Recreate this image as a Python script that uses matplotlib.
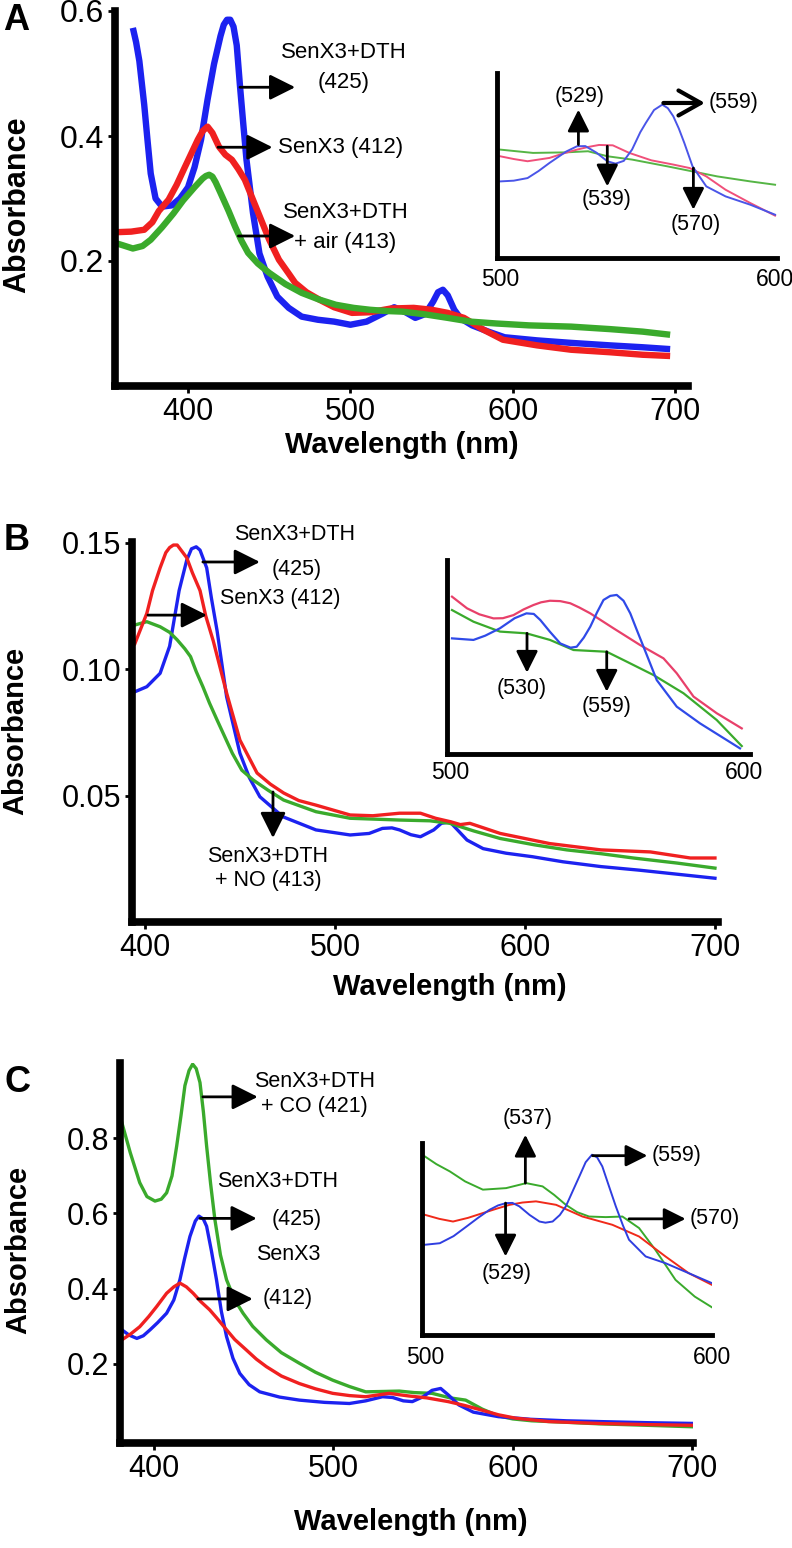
import matplotlib
matplotlib.use('Agg')
import matplotlib.pyplot as plt

plt.rcParams['font.family'] = ['Liberation Sans', 'DejaVu Sans']

# ---------------- Panel A data ----------------
a_blue_wl = [366, 368, 370, 373, 375, 377, 380, 384, 390, 395, 400, 404, 408, 412, 416, 420, 422, 424, 426, 428, 430, 432, 434, 436, 440, 444, 449, 455, 462, 470, 480, 490, 500, 510, 520, 527, 534, 540, 546, 551, 554, 557, 560, 564, 568, 575, 585, 595, 615, 636, 660, 680, 697]
a_blue_ab = [0.573, 0.55, 0.52, 0.45, 0.394, 0.34, 0.30, 0.287, 0.289, 0.30, 0.318, 0.35, 0.394, 0.458, 0.515, 0.560, 0.578, 0.586, 0.586, 0.575, 0.545, 0.48, 0.42, 0.362, 0.277, 0.212, 0.175, 0.143, 0.125, 0.111, 0.106, 0.103, 0.098, 0.103, 0.116, 0.126, 0.118, 0.109, 0.115, 0.135, 0.150, 0.154, 0.145, 0.122, 0.108, 0.097, 0.087, 0.078, 0.073, 0.069, 0.065, 0.062, 0.059]
a_red_wl = [355, 365, 373, 378, 382, 388, 393, 398, 402, 406, 409, 412, 415, 419, 423, 427, 431, 435, 440, 445, 450, 456, 462, 466, 473, 481, 490, 501, 512, 525, 539, 550, 560, 570, 582, 594, 615, 636, 660, 680, 697]
a_red_ab = [0.246, 0.247, 0.25, 0.262, 0.28, 0.298, 0.322, 0.35, 0.372, 0.394, 0.408, 0.415, 0.405, 0.383, 0.37, 0.362, 0.347, 0.33, 0.298, 0.266, 0.234, 0.202, 0.18, 0.165, 0.15, 0.138, 0.126, 0.117, 0.118, 0.124, 0.125, 0.122, 0.117, 0.109, 0.09, 0.074, 0.065, 0.058, 0.054, 0.05, 0.048]
a_green_wl = [355, 360, 366, 372, 377, 384, 391, 397, 404, 409, 411, 413, 415, 417, 420, 425, 429, 433, 437, 443, 450, 460, 470, 480, 491, 502, 512, 522, 532, 545, 560, 574, 590, 610, 636, 660, 680, 697]
a_green_ab = [0.229, 0.225, 0.22, 0.224, 0.234, 0.254, 0.276, 0.297, 0.318, 0.332, 0.336, 0.338, 0.335, 0.326, 0.309, 0.28, 0.255, 0.232, 0.213, 0.196, 0.181, 0.163, 0.149, 0.139, 0.13, 0.125, 0.122, 0.12, 0.119, 0.115, 0.109, 0.103, 0.1, 0.097, 0.095, 0.091, 0.087, 0.082]

# inset A (relative absorbance)
ai_blue_wl = [500, 505, 510, 514, 518, 524, 528, 531, 535, 539, 542, 545, 548, 551, 553, 556, 559, 561, 563, 565, 567, 570, 575, 582, 591, 600]
ai_blue_ab = [0.414, 0.418, 0.432, 0.47, 0.514, 0.575, 0.604, 0.605, 0.57, 0.523, 0.51, 0.525, 0.586, 0.68, 0.73, 0.80, 0.829, 0.81, 0.766, 0.70, 0.622, 0.495, 0.387, 0.333, 0.288, 0.234]
ai_red_wl = [500, 505, 510, 518, 523, 528, 532, 536, 541, 547, 555, 563, 569, 575, 582, 591, 600]
ai_red_ab = [0.55, 0.535, 0.523, 0.541, 0.565, 0.586, 0.60, 0.611, 0.609, 0.568, 0.528, 0.505, 0.486, 0.441, 0.369, 0.297, 0.229]
ai_green_wl = [500, 512, 524, 532, 539, 548, 561, 570, 579, 591, 600]
ai_green_ab = [0.586, 0.568, 0.571, 0.577, 0.55, 0.532, 0.495, 0.468, 0.441, 0.414, 0.396]

# ---------------- Panel B data ----------------
b_red_wl = [394.7, 401, 404, 408, 411, 413, 415, 417, 420, 422, 425, 429, 432, 436, 443, 450, 459, 466, 473, 481, 490, 508, 520, 534, 545, 553, 561, 566, 571, 587, 600, 613, 640, 666, 687, 700]
b_red_ab = [0.110, 0.122, 0.131, 0.140, 0.146, 0.148, 0.149, 0.149, 0.146, 0.144, 0.138, 0.131, 0.121, 0.111, 0.0905, 0.0719, 0.0589, 0.0545, 0.051, 0.048, 0.0462, 0.0423, 0.042, 0.043, 0.043, 0.041, 0.0396, 0.0385, 0.039, 0.035, 0.033, 0.031, 0.0285, 0.0277, 0.0253, 0.0253]
b_blue_wl = [394.7, 401, 408, 413, 418, 422, 424.5, 427, 429, 430.5, 432.5, 435, 438, 443, 450, 455, 460.5, 472.6, 490, 508, 518, 525, 530, 534, 540, 545, 552, 556, 560.5, 565, 569.5, 578, 590, 604, 620, 640, 660, 675, 700]
b_blue_ab = [0.091, 0.093, 0.0983, 0.109, 0.131, 0.143, 0.1475, 0.1483, 0.147, 0.144, 0.140, 0.128, 0.115, 0.089, 0.0667, 0.057, 0.0495, 0.0416, 0.0364, 0.0344, 0.035, 0.037, 0.0372, 0.0364, 0.0345, 0.0337, 0.0364, 0.039, 0.0396, 0.036, 0.0324, 0.029, 0.0272, 0.0258, 0.0238, 0.0219, 0.0205, 0.0193, 0.0173]
b_green_wl = [394.7, 401, 408, 413, 417, 421, 424, 427, 430.5, 434, 438, 446, 451, 457, 465, 473, 490, 508, 534, 550, 560.5, 573, 587, 605, 622, 640, 657, 680, 700]
b_green_ab = [0.1174, 0.1187, 0.1167, 0.1145, 0.1115, 0.108, 0.1049, 0.099, 0.093, 0.0865, 0.0798, 0.0667, 0.060, 0.0561, 0.052, 0.0482, 0.0436, 0.041, 0.0403, 0.040, 0.039, 0.036, 0.033, 0.0305, 0.0285, 0.027, 0.0253, 0.0233, 0.0213]

bi_red_wl = [500.7, 505.8, 510, 514.8, 518, 521.6, 525, 528.4, 531, 534, 537.5, 540.9, 544, 547.7, 555.6, 564.6, 572.6, 577.1, 582.8, 590.7, 599.2]
bi_red_ab = [0.811, 0.751, 0.72, 0.699, 0.70, 0.716, 0.745, 0.768, 0.782, 0.79, 0.788, 0.777, 0.755, 0.725, 0.648, 0.562, 0.493, 0.416, 0.296, 0.21, 0.132]
bi_blue_wl = [500.7, 508, 512, 517, 522, 526, 528.5, 530.7, 534, 537.5, 541, 543.1, 545.5, 547.7, 550, 552.2, 554.5, 556.7, 559, 561.3, 563.5, 565.8, 570.3, 577.1, 585, 598.6]
bi_blue_ab = [0.596, 0.588, 0.61, 0.648, 0.70, 0.725, 0.722, 0.691, 0.63, 0.570, 0.548, 0.553, 0.60, 0.656, 0.73, 0.794, 0.815, 0.82, 0.79, 0.725, 0.64, 0.553, 0.381, 0.244, 0.158, 0.029]
bi_green_wl = [500.7, 508, 517, 526, 534, 542, 553.3, 560.1, 569.2, 579.4, 590.7, 599.2]
bi_green_ab = [0.742, 0.682, 0.631, 0.622, 0.588, 0.536, 0.527, 0.476, 0.407, 0.313, 0.175, 0.041]

# ---------------- Panel C data ----------------
c_green_wl = [382, 386.7, 392, 396, 400.5, 404, 407, 410, 412.6, 415, 417.2, 419.5, 421.5, 423.5, 425.6, 427.5, 429.3, 431.5, 433.9, 437, 440.4, 445, 449.6, 455, 462.6, 471, 481, 490, 499.6, 509, 518, 528, 536.7, 545, 555, 565, 573.7, 583, 592, 600, 610.6, 630, 647.8, 675, 701]
c_green_ab = [0.842, 0.762, 0.682, 0.645, 0.633, 0.638, 0.655, 0.70, 0.779, 0.86, 0.94, 0.98, 0.997, 0.985, 0.948, 0.87, 0.779, 0.68, 0.584, 0.49, 0.424, 0.37, 0.335, 0.30, 0.264, 0.23, 0.202, 0.178, 0.157, 0.14, 0.126, 0.127, 0.128, 0.124, 0.122, 0.11, 0.104, 0.08, 0.062, 0.054, 0.049, 0.045, 0.041, 0.037, 0.033]
c_blue_wl = [382, 386, 390.4, 394, 397.8, 402, 407, 411, 414.4, 417, 420, 423, 425, 427.5, 429.3, 432, 434.8, 437.5, 440.4, 444, 447.8, 453, 458.9, 470, 481, 495, 508.9, 518, 527.4, 533, 539, 544, 550, 555, 559.8, 564, 570, 578, 592, 610, 630, 647.8, 675, 701]
c_blue_ab = [0.291, 0.277, 0.268, 0.275, 0.291, 0.31, 0.335, 0.37, 0.424, 0.48, 0.539, 0.58, 0.593, 0.585, 0.566, 0.50, 0.424, 0.34, 0.273, 0.215, 0.175, 0.145, 0.126, 0.112, 0.104, 0.098, 0.095, 0.102, 0.113, 0.111, 0.102, 0.1, 0.113, 0.13, 0.135, 0.118, 0.091, 0.072, 0.06, 0.053, 0.049, 0.047, 0.044, 0.042]
c_red_wl = [382, 387, 392, 397, 401.5, 407, 411, 414.4, 418, 421.8, 426, 431, 435, 440.4, 445, 451.5, 457, 462.6, 471, 481, 490, 499.6, 509, 518, 531, 542, 552, 564, 573, 583, 592, 601.5, 620, 648, 675, 701]
c_red_ab = [0.264, 0.28, 0.299, 0.326, 0.353, 0.388, 0.405, 0.415, 0.405, 0.388, 0.366, 0.344, 0.322, 0.291, 0.265, 0.237, 0.213, 0.193, 0.168, 0.148, 0.134, 0.122, 0.116, 0.113, 0.122, 0.115, 0.11, 0.1, 0.09, 0.077, 0.065, 0.056, 0.047, 0.042, 0.039, 0.037]

ci_green_wl = [500, 504, 508.7, 514, 520.2, 528.3, 535.3, 541, 545, 549.1, 553, 557.2, 563, 568.8, 574.6, 580.3, 587.3, 594, 600]
ci_green_ab = [0.930, 0.89, 0.852, 0.80, 0.757, 0.765, 0.791, 0.774, 0.73, 0.678, 0.64, 0.617, 0.614, 0.617, 0.557, 0.443, 0.287, 0.20, 0.144]
ci_red_wl = [500, 505, 509.8, 515, 520.2, 525, 529.5, 534, 538.7, 545.7, 554.9, 565.3, 574.6, 583.8, 591.9, 600]
ci_red_ab = [0.626, 0.605, 0.591, 0.61, 0.635, 0.658, 0.678, 0.69, 0.696, 0.678, 0.617, 0.574, 0.513, 0.409, 0.322, 0.261]
ci_blue_wl = [500, 505.2, 510, 514.5, 518.5, 522.5, 525.5, 528.3, 530.5, 532.9, 536.5, 539.9, 542, 544.5, 547, 549.1, 551.5, 553.8, 556, 558.2, 560, 561.8, 564, 566.5, 569, 571.1, 576.9, 583.8, 591.9, 600]
ci_blue_ab = [0.470, 0.478, 0.515, 0.565, 0.61, 0.652, 0.675, 0.687, 0.688, 0.67, 0.625, 0.591, 0.585, 0.591, 0.625, 0.67, 0.75, 0.826, 0.90, 0.939, 0.925, 0.878, 0.78, 0.67, 0.57, 0.496, 0.409, 0.374, 0.322, 0.27]

x_ticks = [400, 500, 600, 700]
a_yticks = [0.2, 0.4, 0.6]
a_ylabels = ['0.2', '0.4', '0.6']
b_yticks = [0.05, 0.10, 0.15]
b_ylabels = ['0.05', '0.10', '0.15']
c_yticks = [0.2, 0.4, 0.6, 0.8]
c_ylabels = ['0.2', '0.4', '0.6', '0.8']
inset_ticks = [500, 600]

# ---------------- figure ----------------
W, H = 792, 1548
fig = plt.figure(figsize=(W / 100, H / 100), dpi=100)

BLUE, RED, GREEN = '#1c22f0', '#f02020', '#3aaa2c'


def add_ax(l, t, r, b):
    return fig.add_axes([l / W, 1 - b / H, (r - l) / W, (b - t) / H])


def style(ax, lw, ticklen, labelsize, pad):
    for s in ['top', 'right']:
        ax.spines[s].set_visible(False)
    for s in ['left', 'bottom']:
        ax.spines[s].set_linewidth(lw)
        ax.spines[s].set_capstyle('projecting')
    ax.tick_params(direction='out', length=ticklen, width=2, labelsize=labelsize, pad=pad)
    ax.patch.set_alpha(0)


def arrow(ax, x0, y0, x1, y1, style='-|>,head_length=0.6,head_width=0.3', ms=26, lw=2):
    ax.annotate('', xy=(x1, y1), xytext=(x0, y0),
                arrowprops=dict(arrowstyle=style, color='black', lw=lw, mutation_scale=ms,
                                shrinkA=0, shrinkB=0),
                annotation_clip=False)


def txt(ax, x, y, s, ha='center', size=15.5):
    ax.text(x, y, s, ha=ha, va='center', fontsize=size, clip_on=False)


def inset_style(ax, pad):
    style(ax, 3.5, 0, 16.5, pad)
    ax.set_yticks([])
    ax.set_xticks(inset_ticks)
    ax.set_xticklabels([str(t) for t in inset_ticks])


# ===== Panel A =====
axA = add_ax(115, 11, 688, 386)
style(axA, 5.5, 5, 22, 3)
axA.plot(a_blue_wl, a_blue_ab, color=BLUE, lw=4.6, solid_joinstyle='round', solid_capstyle='butt')
axA.plot(a_red_wl, a_red_ab, color=RED, lw=4.6, solid_joinstyle='round', solid_capstyle='butt')
axA.plot(a_green_wl, a_green_ab, color=GREEN, lw=4.6, solid_joinstyle='round', solid_capstyle='butt')
axA.set_xlim(355, 708)
axA.set_ylim(0, 0.6)
axA.set_xticks(x_ticks)
axA.set_yticks(a_yticks)
axA.set_yticklabels(a_ylabels)
axA.tick_params(axis='y', labelsize=23)
arrow(axA, 432, 0.478, 466, 0.478)
txt(axA, 496, 0.534, 'SenX3+DTH', size=16)
txt(axA, 496, 0.486, '(425)', size=16)
arrow(axA, 418.5, 0.382, 452, 0.382)
txt(axA, 455.5, 0.382, 'SenX3 (412)', ha='left', size=16)
arrow(axA, 431, 0.24, 466, 0.24)
txt(axA, 497, 0.278, 'SenX3+DTH', size=16)
txt(axA, 497, 0.229, '+ air (413)', size=16)

axAi = add_ax(497, 73, 777, 258)
inset_style(axAi, 7)
axAi.plot(ai_green_wl, ai_green_ab, color='#55b545', lw=1.4)
axAi.plot(ai_red_wl, ai_red_ab, color='#f0507a', lw=1.4)
axAi.plot(ai_blue_wl, ai_blue_ab, color='#4a55e8', lw=1.4)
axAi.set_xlim(498.9, 600.7)
axAi.set_ylim(0, 1)
arrow(axAi, 528.5, 0.613, 528.5, 0.802, ms=22)
txt(axAi, 529.1, 0.874, '(529)')
arrow(axAi, 539, 0.604, 539, 0.387, ms=22)
txt(axAi, 538.8, 0.315, '(539)')
arrow(axAi, 570.3, 0.486, 570.3, 0.261, ms=22)
txt(axAi, 571.3, 0.18, '(570)')
arrow(axAi, 559.4, 0.838, 574.5, 0.838, style='->,head_length=0.8,head_width=0.45', ms=20, lw=3)
txt(axAi, 575.8, 0.838, '(559)', ha='left')

fig.text(16 / W, 1 - 21 / H, 'A', fontsize=26, fontweight='bold', ha='center', va='center')
fig.text(17 / W, 1 - 205 / H, 'Absorbance', fontsize=22, fontweight='bold', rotation=90, ha='center', va='center')
fig.text(402 / W, 1 - 445 / H, 'Wavelength (nm)', fontsize=21, fontweight='bold', ha='center', va='center')

# ===== Panel B =====
axB = add_ax(132, 542, 718, 922)
style(axB, 5.5, 5, 22, 3)
axB.plot(b_blue_wl, b_blue_ab, color=BLUE, lw=2.4)
axB.plot(b_green_wl, b_green_ab, color=GREEN, lw=2.4)
axB.plot(b_red_wl, b_red_ab, color=RED, lw=2.4)
axB.set_xlim(393.2, 701.6)
axB.set_ylim(0, 0.1502)
axB.set_xticks(x_ticks)
axB.set_yticks(b_yticks)
axB.set_yticklabels(b_ylabels)
arrow(axB, 430.5, 0.1423, 460.5, 0.1423)
txt(axB, 479, 0.153, 'SenX3+DTH')
txt(axB, 480, 0.1395, '(425)')
txt(axB, 471, 0.128, 'SenX3 (412)')
arrow(axB, 401.6, 0.1213, 432.6, 0.1213)
arrow(axB, 467.4, 0.0514, 467.4, 0.0332)
txt(axB, 464.7, 0.0257, 'SenX3+DTH')
txt(axB, 464.7, 0.0166, '+ NO (413)')

axBi = add_ax(447, 560, 750, 754)
inset_style(axBi, 5)
axBi.plot(bi_red_wl, bi_red_ab, color='#e8406a', lw=1.6)
axBi.plot(bi_green_wl, bi_green_ab, color='#3aaa2c', lw=1.6)
axBi.plot(bi_blue_wl, bi_blue_ab, color='#2f4ae8', lw=1.6)
axBi.set_xlim(499, 602)
axBi.set_ylim(0, 1)
arrow(axBi, 526.2, 0.622, 526.2, 0.419, ms=22)
txt(axBi, 524.5, 0.338, '(530)')
arrow(axBi, 553.3, 0.527, 553.3, 0.321, ms=22)
txt(axBi, 553.3, 0.244, '(559)')

fig.text(17 / W, 1 - 541 / H, 'B', fontsize=26, fontweight='bold', ha='center', va='center')
fig.text(15 / W, 1 - 731 / H, 'Absorbance', fontsize=21, fontweight='bold', rotation=90, ha='center', va='center')
fig.text(450 / W, 1 - 987 / H, 'Wavelength (nm)', fontsize=21, fontweight='bold', ha='center', va='center')

# ===== Panel C =====
axC = add_ax(120, 1063, 693, 1443)
style(axC, 5.5, 5, 22, 3)
axC.plot(c_green_wl, c_green_ab, color=GREEN, lw=2.4)
axC.plot(c_blue_wl, c_blue_ab, color=BLUE, lw=2.4)
axC.plot(c_red_wl, c_red_ab, color=RED, lw=2.4)
axC.set_xlim(381, 700.5)
axC.set_ylim(-0.01, 1.0)
axC.set_xticks(x_ticks)
axC.set_yticks(c_yticks)
axC.set_yticklabels(c_ylabels)
arrow(axC, 427.2, 0.91, 457.8, 0.91)
txt(axC, 489.4, 0.952, 'SenX3+DTH')
txt(axC, 489.4, 0.885, '+ CO (421)')
txt(axC, 468.9, 0.685, 'SenX3+DTH')
arrow(axC, 425.6, 0.587, 457.2, 0.587)
txt(axC, 479.4, 0.584, '(425)')
txt(axC, 475, 0.491, 'SenX3')
arrow(axC, 424.4, 0.373, 455, 0.373)
txt(axC, 474.4, 0.373, '(412)')

axCi = add_ax(422, 1143, 712, 1335)
inset_style(axCi, 8)
axCi.plot(ci_green_wl, ci_green_ab, color='#3aaa2c', lw=1.4)
axCi.plot(ci_red_wl, ci_red_ab, color='#f02a1a', lw=1.4)
axCi.plot(ci_blue_wl, ci_blue_ab, color='#2f3ee0', lw=1.4)
axCi.set_xlim(499, 600)
axCi.set_ylim(0, 1)
arrow(axCi, 535, 0.791, 535, 1.043, ms=22)
txt(axCi, 535.8, 1.13, '(537)')
arrow(axCi, 528.1, 0.687, 528.1, 0.409, ms=22)
txt(axCi, 528.3, 0.322, '(529)')
arrow(axCi, 558.4, 0.934, 577.5, 0.934, ms=22)
txt(axCi, 579, 0.934, '(559)', ha='left')
arrow(axCi, 571.1, 0.605, 590.8, 0.605, ms=22)
txt(axCi, 592.1, 0.605, '(570)', ha='left')

fig.text(17 / W, 1 - 1082 / H, 'C', fontsize=26, fontweight='bold', ha='center', va='center')
fig.text(18 / W, 1 - 1250 / H, 'Absorbance', fontsize=21, fontweight='bold', rotation=90, ha='center', va='center')
fig.text(411 / W, 1 - 1522 / H, 'Wavelength (nm)', fontsize=21, fontweight='bold', ha='center', va='center')

fig.savefig('out.png', dpi=100)
